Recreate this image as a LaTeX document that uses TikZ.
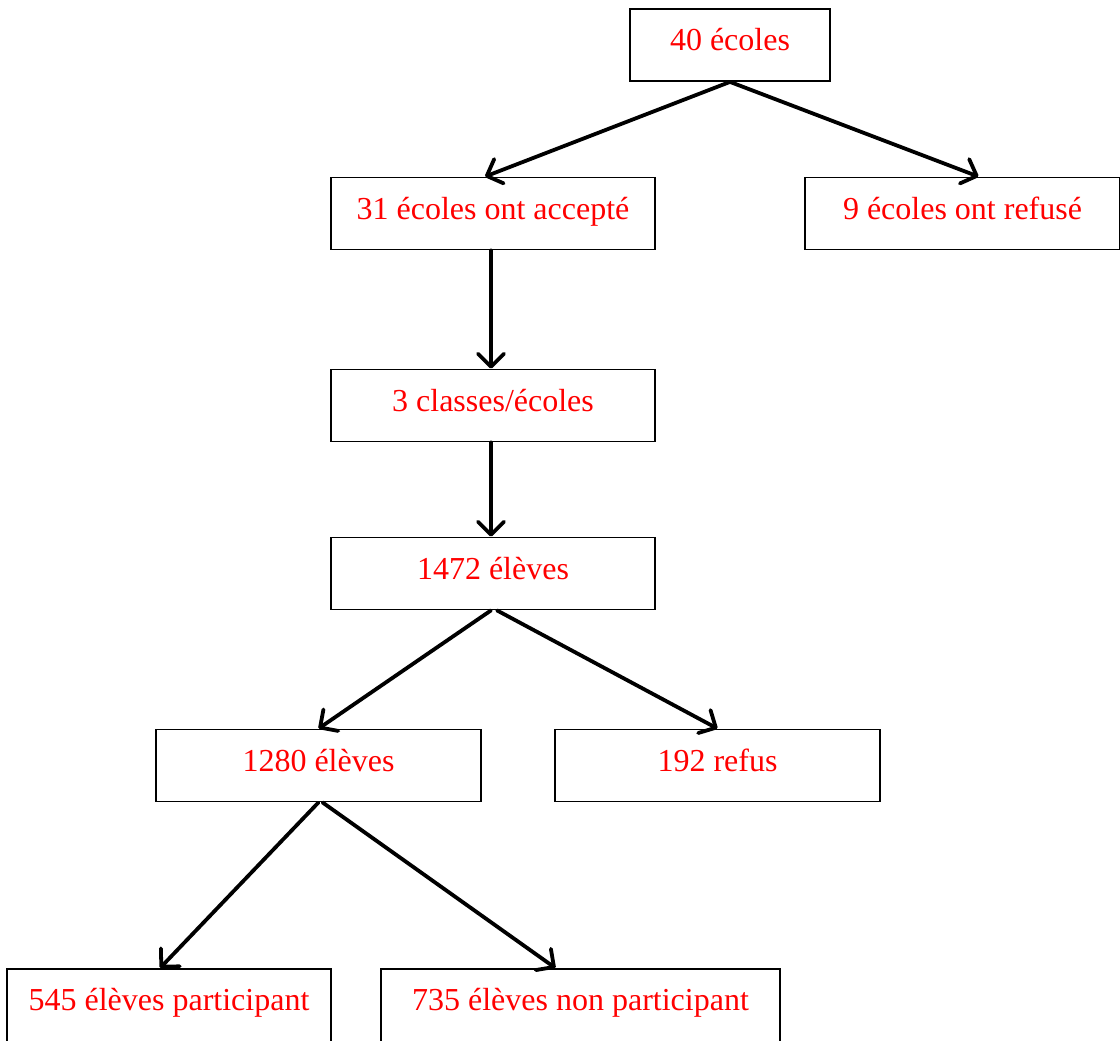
\documentclass[tikz,border=0pt]{standalone}
\usepackage{fontspec}
\setmainfont{Liberation Serif}
\usetikzlibrary{arrows.meta,calc}
\begin{document}
\begin{tikzpicture}[x=1pt,y=-1pt,
  box/.style={draw=black, line width=1.8pt, rectangle, minimum height=72pt, inner sep=0pt,
    text=red, font=\fontsize{32pt}{36pt}\selectfont, text height=25pt, text depth=13pt},
  arr/.style={line width=3.8pt, line cap=round, -{Straight Barb[length=13pt,width=26pt,line width=3.8pt,round]}}]
\useasboundingbox (0,0) rectangle (1120,1041);
\node[box, minimum width=200pt] (e40) at (730,45) {40 écoles};
\node[box, minimum width=324pt] (acc) at (493,213.5) {31 écoles ont accepté};
\node[box, minimum width=315pt] (ref) at (962.5,213.5) {9 écoles ont refusé};
\node[box, minimum width=324pt] (cls) at (493,405.5) {3 classes/écoles};
\node[box, minimum width=324pt] (el1472) at (493,573.5) {1472 élèves};
\node[box, minimum width=325pt] (el1280) at (318.5,765.5) {1280 élèves};
\node[box, minimum width=325pt] (refus) at (717.5,765.5) {192 refus};
\node[box, minimum width=324pt, minimum height=80pt, text height=18pt, text depth=16pt] (part) at (169,1009) {545 élèves participant};
\node[box, minimum width=399pt, minimum height=80pt, text height=18pt, text depth=16pt] (npart) at (580.5,1009) {735 élèves non participant};
\draw[arr] (e40.south) -- ([xshift=-8pt]acc.north);
\draw[arr] (e40.south) -- ([xshift=16pt]ref.north);
\draw[arr] ([xshift=-2pt]acc.south) -- ([xshift=-2pt]cls.north);
\draw[arr] ([xshift=-2pt]cls.south) -- ([xshift=-2pt]el1472.north);
\draw[arr] ([xshift=-2pt]el1472.south) -- (el1280.north);
\draw[arr] ([xshift=4pt]el1472.south) -- (refus.north);
\draw[arr] (el1280.south) -- ([xshift=-9pt]part.north);
\draw[arr] ([xshift=4pt]el1280.south) -- ([xshift=-25pt]npart.north);
\end{tikzpicture}
\end{document}
